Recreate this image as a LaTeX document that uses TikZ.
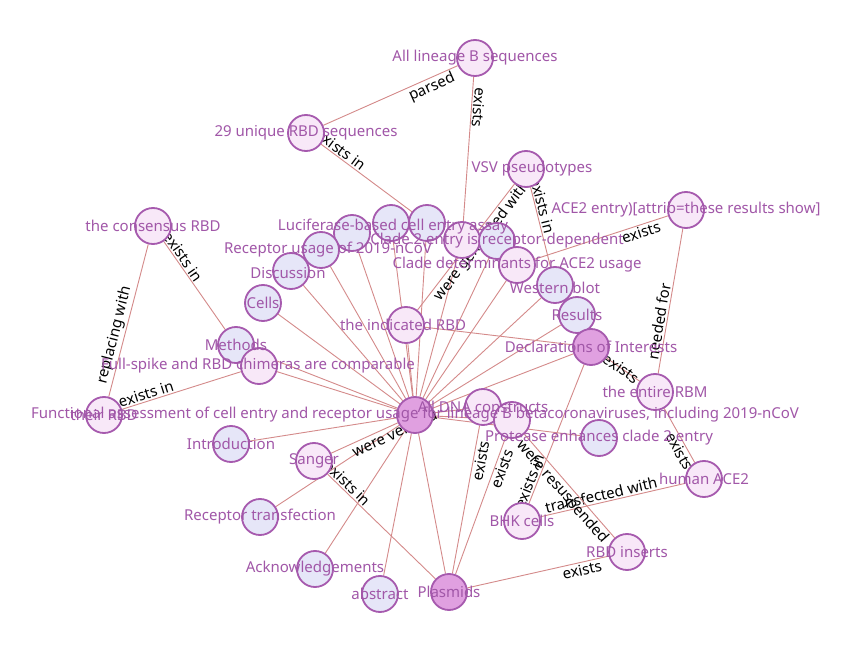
\documentclass[tikz,border=0pt]{standalone}
\usepackage{fontspec}
\setmainfont{Noto Sans}
\usepackage{xcolor}
\usepackage{tikz}
\usetikzlibrary{backgrounds}
\definecolor{ringline}{HTML}{A65AAE}
\definecolor{labelpurple}{HTML}{A157A8}
\definecolor{pinkfill}{HTML}{F8E8F8}
\definecolor{lavfill}{HTML}{E6E6F8}
\definecolor{plumfill}{HTML}{E0A0E0}
\definecolor{linkred}{HTML}{D48A8A}
\tikzset{
  entity/.style={circle,draw=ringline,line width=1.8pt,minimum size=36pt,inner sep=0pt},
  pinknode/.style={entity,fill=pinkfill},
  lavnode/.style={entity,fill=lavfill},
  plumnode/.style={entity,fill=plumfill},
  nodetext/.style={text=labelpurple,font=\fontsize{15}{16}\selectfont,inner sep=0pt},
  relation/.style={draw=linkred,line width=0.9pt},
  relationlabel/.style={sloped,allow upside down,font=\fontsize{15}{16}\selectfont,inner sep=1.5pt,text=black}
}

\begin{document}
\begin{tikzpicture}[x=1pt,y=-1pt]
  \useasboundingbox (0,0) rectangle (855,663);
  % entities
  \node[pinknode] (lineageB) at (475,58) {};
  \node[pinknode] (uniqueRBD) at (306,133) {};
  \node[pinknode] (vsv) at (526,169) {};
  \node[pinknode] (attrib) at (686,210) {};
  \node[pinknode] (consensus) at (153,226) {};
  \node[lavnode] (clusterA) at (352,233) {};
  \node[lavnode] (luciferase) at (391,223) {};
  \node[lavnode] (clusterC) at (427,223) {};
  \node[pinknode] (clusterP) at (462,240) {};
  \node[lavnode] (clade2) at (497,241) {};
  \node[lavnode] (usage) at (321,250) {};
  \node[pinknode] (cladedet) at (517,265) {};
  \node[lavnode] (discussion) at (291,271) {};
  \node[lavnode] (cells) at (263,303) {};
  \node[lavnode] (western) at (555,285) {};
  \node[lavnode] (results) at (577,315) {};
  \node[plumnode] (declarations) at (591,347) {};
  \node[pinknode] (indicated) at (406,325) {};
  \node[lavnode] (methods) at (236,345) {};
  \node[pinknode] (fullspike) at (259,366) {};
  \node[pinknode] (entireRBM) at (655,392) {};
  \node[pinknode] (theirRBD) at (104,415) {};
  \node[lavnode] (intro) at (231,444) {};
  \node[pinknode] (sanger) at (314,461) {};
  \node[pinknode] (humanACE2) at (704,479) {};
  \node[lavnode] (transfection) at (260,517) {};
  \node[pinknode] (bhk) at (522,521) {};
  \node[pinknode] (rbdinserts) at (627,552) {};
  \node[lavnode] (ack) at (315,569) {};
  \node[lavnode] (abstract) at (380,594) {};
  \node[plumnode] (plasmids) at (449,592) {};
  \node[pinknode] (alldna) at (483,407) {};
  \node[pinknode] (resuspend) at (512,420) {};
  \node[lavnode] (protease) at (599,438) {};
  \node[plumnode] (paper) at (415,415) {};

  % links under the circles
  \begin{scope}[on background layer]
    \fill[white] (0,0) rectangle (855,663);
    \foreach \n in {clusterA,luciferase,clusterC,clusterP,clade2,usage,cladedet,discussion,cells,western,results,declarations,indicated,methods,fullspike,intro,transfection,ack,abstract,plasmids,alldna,resuspend,protease}
      \draw[relation] (paper) -- (\n);
    \draw[relation] (uniqueRBD) -- node[relationlabel,below,pos=0.78] {parsed} (lineageB);
    \draw[relation] (lineageB) -- node[relationlabel,above,pos=0.21] {exists} (clusterP);
    \draw[relation] (uniqueRBD) -- node[relationlabel,above,pos=0.17] {exists in} (clusterC);
    \draw[relation] (indicated) -- node[relationlabel,below,pos=0.59] {were generated with} (vsv);
    \draw[relation] (vsv) -- node[relationlabel,above,pos=0.25] {exists in} (western);
    \draw[relation] (cladedet) -- node[relationlabel,below,pos=0.78] {exists} (attrib);
    \draw[relation] (entireRBM) -- node[relationlabel,above,pos=0.35] {needed for} (attrib);
    \draw[relation] (theirRBD) -- node[relationlabel,above,pos=0.39] {replacing with} (consensus);
    \draw[relation] (consensus) -- node[relationlabel,above,pos=0.22] {exists in} (methods);
    \draw[relation] (theirRBD) -- node[relationlabel,above,pos=0.22] {exists in} (fullspike);
    \draw[relation] (declarations) -- node[relationlabel,pos=0.45] {exists} (entireRBM);
    \draw[relation] (entireRBM) -- node[relationlabel,below,pos=0.72] {exists} (humanACE2);
    \draw[relation] (bhk) -- node[relationlabel,above,pos=0.43] {transfected with} (humanACE2);
    \draw[relation] (resuspend) -- node[relationlabel,below,pos=0.5] {were resuspended} (rbdinserts);
    \draw[relation] (plasmids) -- node[relationlabel,below,pos=0.79] {exists} (resuspend);
    \draw[relation] (plasmids) -- node[relationlabel,below,pos=0.77] {exists} (alldna);
    \draw[relation] (bhk) -- node[relationlabel,above,pos=0.14] {exists in} (declarations);
    \draw[relation] (sanger) -- node[relationlabel,above,pos=0.14] {exists in} (plasmids);
    \draw[relation] (plasmids) -- node[relationlabel,below,pos=0.8] {exists} (rbdinserts);
    \draw[relation] (sanger) -- node[relationlabel,below,pos=0.9] {were verified} (paper);
    \draw[relation] (indicated) -- (declarations);
  \end{scope}

  % labels on top
  \node[nodetext] (lineageB-l) at (lineageB) {All lineage B sequences};
  \node[nodetext] (uniqueRBD-l) at (uniqueRBD) {29 unique RBD sequences};
  \node[nodetext] (vsv-l) at (532,169) {VSV pseudotypes};
  \node[nodetext] (attrib-l) at (attrib) {ACE2 entry)[attrib=these results show]};
  \node[nodetext] (consensus-l) at (consensus) {the consensus RBD};
  \node[nodetext] (luciferase-l) at (393,227) {Luciferase-based cell entry assay};
  \node[nodetext] (clade2-l) at (clade2) {Clade 2 entry is receptor-dependent};
  \node[nodetext] (usage-l) at (328,250) {Receptor usage of 2019-nCoV};
  \node[nodetext] (cladedet-l) at (cladedet) {Clade determinants for ACE2 usage};
  \node[nodetext] (discussion-l) at (288,273) {Discussion};
  \node[nodetext] (cells-l) at (cells) {Cells};
  \node[nodetext] (western-l) at (555,288) {Western blot};
  \node[nodetext] (results-l) at (results) {Results};
  \node[nodetext] (declarations-l) at (declarations) {Declarations of Interests};
  \node[nodetext] (indicated-l) at (403,325) {the indicated RBD};
  \node[nodetext] (methods-l) at (methods) {Methods};
  \node[nodetext] (fullspike-l) at (258,366) {Full-spike and RBD chimeras are comparable};
  \node[nodetext] (entireRBM-l) at (entireRBM) {the entire RBM};
  \node[nodetext] (theirRBD-l) at (theirRBD) {their RBD};
  \node[nodetext] (intro-l) at (intro) {Introduction};
  \node[nodetext] (sanger-l) at (sanger) {Sanger};
  \node[nodetext] (humanACE2-l) at (humanACE2) {human ACE2};
  \node[nodetext] (transfection-l) at (transfection) {Receptor transfection};
  \node[nodetext] (bhk-l) at (bhk) {BHK cells};
  \node[nodetext] (rbdinserts-l) at (rbdinserts) {RBD inserts};
  \node[nodetext] (ack-l) at (ack) {Acknowledgements};
  \node[nodetext] (abstract-l) at (abstract) {abstract};
  \node[nodetext] (plasmids-l) at (plasmids) {Plasmids};
  \node[nodetext] (alldna-l) at (alldna) {All DNA constructs};
  \node[nodetext] (protease-l) at (protease) {Protease enhances clade 2 entry};
  \node[nodetext] (paper-l) at (paper) {Functional assessment of cell entry and receptor usage for lineage B betacoronaviruses, including 2019-nCoV};
\end{tikzpicture}
\end{document}
